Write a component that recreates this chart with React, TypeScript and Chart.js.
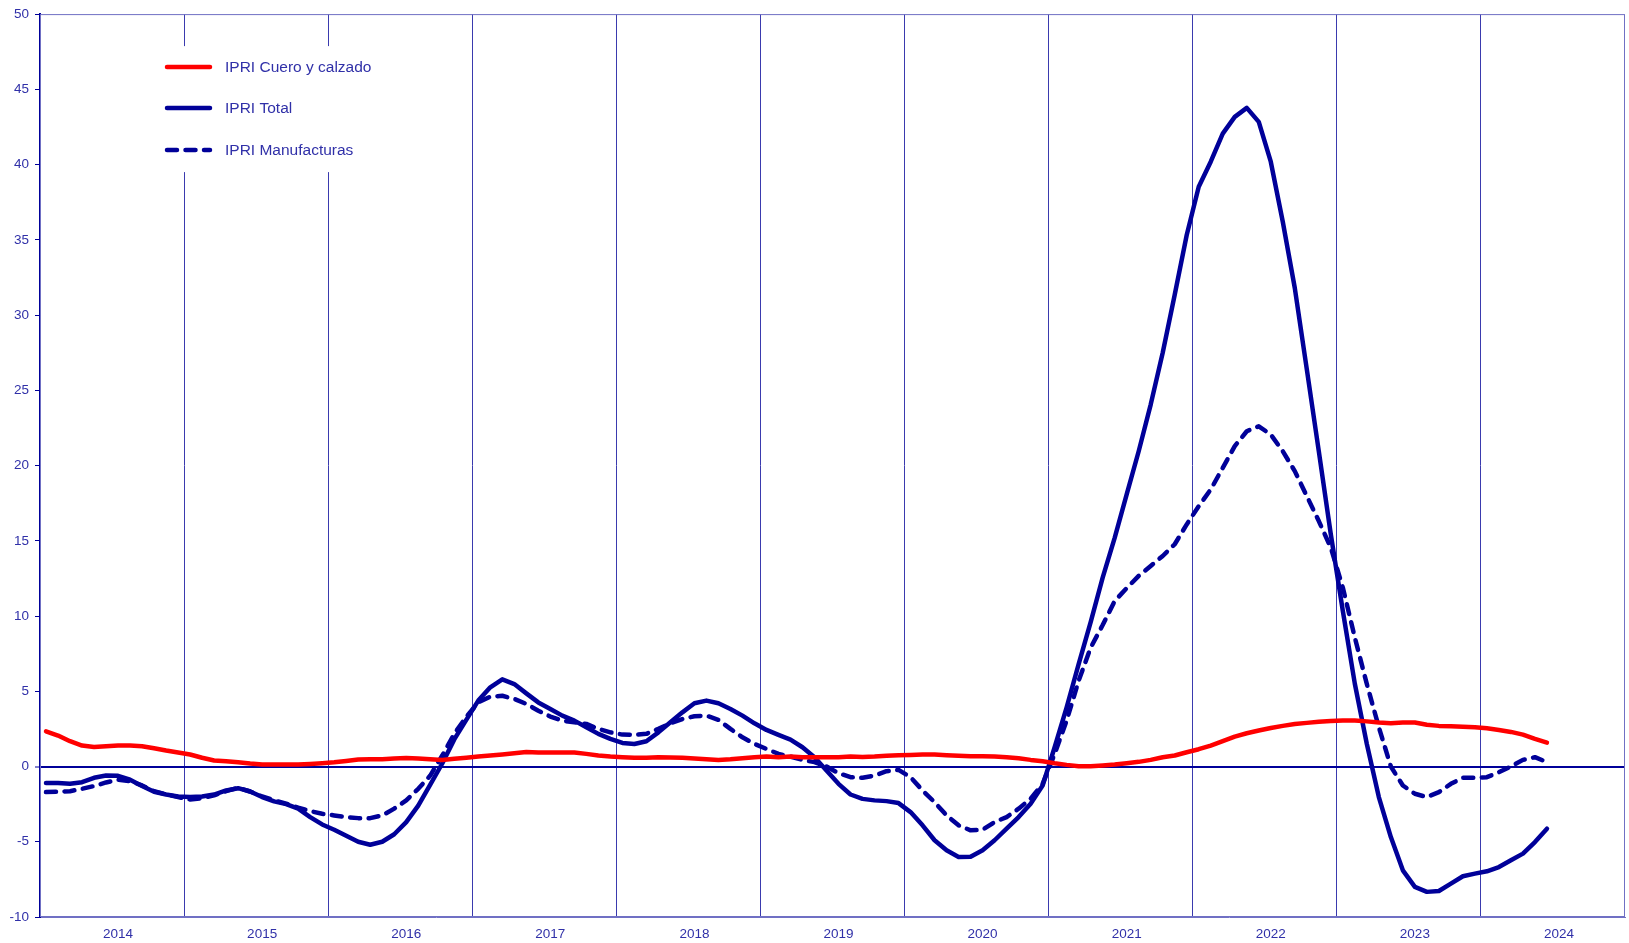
import React, { useEffect, useRef } from 'react';
import { Chart, registerables } from 'chart.js';

Chart.register(...registerables);

// ---- Data (monthly, Jan 2014 – Jun 2024) ----
const years = ['2014', '2015', '2016', '2017', '2018', '2019', '2020', '2021', '2022', '2023', '2024'];
const monthNumbers = ['01', '02', '03', '04', '05', '06', '07', '08', '09', '10', '11', '12'];

const seriesLabels = ['IPRI Cuero y calzado', 'IPRI Total', 'IPRI Manufacturas'];

const ipriCueroCalzado = [
  2.34, 2.06, 1.68, 1.39, 1.3, 1.35, 1.39, 1.39, 1.35, 1.21, 1.06, 0.93,
  0.8, 0.58, 0.4, 0.35, 0.29, 0.2, 0.13, 0.13, 0.13, 0.13, 0.17, 0.22,
  0.28, 0.37, 0.46, 0.48, 0.48, 0.53, 0.57, 0.53, 0.48, 0.44, 0.51, 0.58,
  0.66, 0.73, 0.8, 0.88, 0.97, 0.93, 0.93, 0.93, 0.93, 0.84, 0.73, 0.66,
  0.62, 0.58, 0.58, 0.62, 0.6, 0.58, 0.53, 0.48, 0.44, 0.48, 0.55, 0.62,
  0.66, 0.62, 0.66, 0.62, 0.62, 0.62, 0.62, 0.66, 0.64, 0.66, 0.71, 0.75,
  0.77, 0.8, 0.8, 0.75, 0.71, 0.68, 0.68, 0.66, 0.62, 0.55, 0.44, 0.35,
  0.22, 0.11, 0.02, 0.02, 0.07, 0.13, 0.22, 0.31, 0.44, 0.62, 0.73, 0.95,
  1.15, 1.39, 1.68, 1.99, 2.21, 2.39, 2.56, 2.7, 2.82, 2.9, 2.98, 3.02,
  3.05, 3.05, 3.0, 2.92, 2.87, 2.92, 2.92, 2.78, 2.7, 2.68, 2.65, 2.61,
  2.54, 2.43, 2.3, 2.12, 1.84, 1.59,
];

const ipriTotal = [
  -1.1, -1.1, -1.15, -1.04, -0.75, -0.6, -0.62, -0.88, -1.3, -1.68, -1.86, -1.99,
  -2.03, -1.99, -1.86, -1.59, -1.44, -1.66, -2.03, -2.32, -2.5, -2.8, -3.36, -3.85,
  -4.2, -4.6, -5.0, -5.2, -5.0, -4.5, -3.7, -2.6, -1.2, 0.2, 1.8, 3.1,
  4.38, 5.26, 5.79, 5.48, 4.86, 4.26, 3.82, 3.38, 3.05, 2.61, 2.17, 1.84,
  1.57, 1.5, 1.68, 2.27, 2.94, 3.6, 4.2, 4.38, 4.2, 3.82, 3.38, 2.87,
  2.43, 2.1, 1.79, 1.28, 0.62, -0.27, -1.15, -1.86, -2.15, -2.25, -2.3, -2.43,
  -3.03, -3.91, -4.9, -5.57, -6.01, -6.0, -5.57, -4.9, -4.13, -3.36, -2.47, -1.26,
  1.28, 3.93, 6.8, 9.6, 12.55, 15.2, 18.08, 20.95, 24.05, 27.5, 31.35, 35.32,
  38.53, 40.19, 42.06, 43.17, 43.77, 42.84, 40.19, 36.2, 31.8, 26.4, 20.95, 15.43,
  10.34, 5.5, 1.5, -2.03, -4.69, -6.9, -8.0, -8.33, -8.27, -7.78, -7.29, -7.12,
  -6.96, -6.68, -6.23, -5.79, -5.02, -4.13,
];

const ipriManufacturas = [
  -1.7, -1.68, -1.64, -1.48, -1.3, -1.06, -0.88, -0.97, -1.26, -1.64, -1.86, -2.03,
  -2.19, -2.1, -1.92, -1.64, -1.41, -1.66, -1.99, -2.25, -2.47, -2.74, -2.96, -3.14,
  -3.25, -3.36, -3.43, -3.43, -3.25, -2.8, -2.25, -1.48, -0.6, 0.73, 2.17, 3.3,
  4.26, 4.64, 4.7, 4.49, 4.16, 3.71, 3.32, 3.05, 2.94, 2.83, 2.5, 2.27,
  2.12, 2.1, 2.17, 2.5, 2.87, 3.16, 3.34, 3.38, 3.1, 2.5, 1.94, 1.5,
  1.17, 0.84, 0.66, 0.44, 0.29, 0.0, -0.44, -0.71, -0.75, -0.6, -0.31, -0.22,
  -0.71, -1.59, -2.37, -3.25, -3.91, -4.24, -4.2, -3.69, -3.36, -2.8, -2.14, -1.15,
  0.84, 3.05, 5.7, 7.9, 9.4, 11.0, 11.85, 12.67, 13.33, 13.99, 14.77, 16.09,
  17.3, 18.41, 19.85, 21.29, 22.28, 22.61, 22.06, 20.95, 19.63, 17.97, 16.31, 14.54,
  11.89, 8.57, 5.48, 2.61, 0.0, -1.26, -1.81, -2.03, -1.7, -1.15, -0.75, -0.75,
  -0.71, -0.38, 0.0, 0.44, 0.62, 0.29,
];

const yMin = -10;
const yMax = 50;
const yStep = 5;

// ---- Derived ----
const categories = years.flatMap((y) => monthNumbers.map((m) => `${y}-${m}`));

const FONT = '"Liberation Sans", Arial, Helvetica, sans-serif';
const NAVY = '#000099';
const RED = '#FF0000';
const TEXT = '#3030a8';
const GRID = '#3a3aae';
const FRAME = '#7070c4';
const LINE_W = 4.5;

const boxLegend = {
  id: 'boxLegend',
  beforeDatasetsDraw(chart: any) {
    const { ctx, chartArea } = chart;
    ctx.save();
    // plot-area frame (top/right/bottom)
    ctx.strokeStyle = FRAME;
    ctx.lineWidth = 1;
    ctx.strokeRect(chartArea.left + 0.5, chartArea.top + 0.5, chartArea.width - 1, chartArea.height - 1);
    // legend box
    const bx = chartArea.left + 110;
    const by = chartArea.top + 32;
    ctx.fillStyle = '#ffffff';
    ctx.fillRect(bx, by, 236, 126);
    const rows = [53, 94, 136];
    chart.data.datasets.forEach((ds: any, i: number) => {
      const y = chartArea.top + rows[i];
      ctx.beginPath();
      ctx.strokeStyle = ds.borderColor;
      ctx.lineWidth = 4.5;
      ctx.lineCap = 'round';
      ctx.setLineDash(ds.borderDash || []);
      ctx.moveTo(chartArea.left + 127, y);
      ctx.lineTo(chartArea.left + 170, y);
      ctx.stroke();
      ctx.setLineDash([]);
      ctx.fillStyle = TEXT;
      ctx.font = `15.5px ${FONT}`;
      ctx.textBaseline = 'middle';
      ctx.textAlign = 'left';
      ctx.fillText(ds.label, chartArea.left + 185, y + 0.5);
    });
    ctx.restore();
  },
};

export default function App() {
  const canvasRef = useRef<HTMLCanvasElement | null>(null);

  useEffect(() => {
    if (!canvasRef.current) return;
    const common = {
      borderWidth: LINE_W,
      pointRadius: 0,
      tension: 0,
      borderCapStyle: 'round',
      borderJoinStyle: 'round',
    };
    const chart = new Chart(canvasRef.current, {
      type: 'line',
      data: {
        labels: categories,
        datasets: [
          { ...common, label: seriesLabels[0], data: ipriCueroCalzado, borderColor: RED, backgroundColor: RED },
          { ...common, label: seriesLabels[1], data: ipriTotal, borderColor: NAVY, backgroundColor: NAVY },
          {
            ...common,
            label: seriesLabels[2],
            data: ipriManufacturas,
            borderColor: NAVY,
            backgroundColor: NAVY,
            borderDash: [10, 8.5],
          },
        ],
      },
      options: {
        responsive: false,
        animation: false,
        devicePixelRatio: 1,
        layout: { padding: { top: 12, right: 4, left: 0, bottom: 0 } },
        plugins: {
          legend: { display: false },
          tooltip: { enabled: false },
        },
        scales: {
          x: {
            type: 'category',
            offset: true,
            afterFit: (s: any) => {
              s.height = 26;
            },
            grid: {
              offset: true,
              drawTicks: false,
              lineWidth: 1,
              color: (ctx: any) =>
                ctx.index > 0 && ctx.index < categories.length && ctx.index % 12 === 0 ? GRID : 'rgba(0,0,0,0)',
            },
            border: { display: true, color: FRAME, width: 1 },
            ticks: {
              autoSkip: false,
              maxRotation: 0,
              minRotation: 0,
              padding: 9,
              color: TEXT,
              font: { family: FONT, size: 13.5 },
              callback: (_v: any, idx: number) => (idx % 12 === 6 ? years[Math.floor(idx / 12)] : ''),
            },
          },
          y: {
            min: yMin,
            max: yMax,
            afterFit: (s: any) => {
              s.width = 40;
            },
            grid: {
              drawTicks: true,
              tickLength: 5,
              tickColor: NAVY,
              tickWidth: 1,
              color: (ctx: any) => (ctx.tick && ctx.tick.value === 0 ? NAVY : 'rgba(0,0,0,0)'),
              lineWidth: (ctx: any) => (ctx.tick && ctx.tick.value === 0 ? 2 : 1),
            },
            border: { display: true, color: NAVY, width: 2 },
            ticks: {
              stepSize: yStep,
              padding: 6,
              color: TEXT,
              font: { family: FONT, size: 13.5 },
            },
          },
        },
      },
      plugins: [boxLegend],
    } as any);
    return () => chart.destroy();
  }, []);

  return (
    <div style={{ position: 'fixed', left: 0, top: 0, width: 1629, height: 943, background: '#fff' }}>
      <canvas ref={canvasRef} width={1629} height={943} style={{ display: 'block', width: 1629, height: 943 }} />
    </div>
  );
}
